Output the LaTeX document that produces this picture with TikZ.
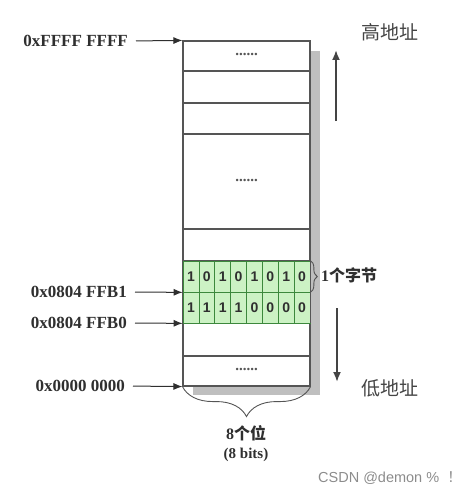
\documentclass[tikz,border=0pt]{standalone}
\usepackage{fontspec}
\setmainfont{Liberation Serif}
\newfontfamily\cjk{Noto Sans CJK SC}
\newfontfamily\wm{Liberation Sans}
\usetikzlibrary{arrows.meta,decorations.pathreplacing}
\definecolor{linec}{HTML}{555555}
\definecolor{shadowc}{HTML}{BFBFBF}
\definecolor{greenc}{HTML}{CCF2C4}
\definecolor{textc}{HTML}{2F2F2F}
\tikzset{
  memrow/.style={draw=linec,line width=1.1pt,fill=white,minimum width=127pt,inner sep=0pt,font=\fontsize{15}{15}\selectfont\bfseries,text=linec},
  bitcell/.style={draw=linec!70!green,line width=0.7pt,fill=greenc,minimum width=15.875pt,minimum height=31pt,inner sep=0pt,font=\wm\fontsize{14}{14}\selectfont\bfseries,text=textc},
  addr/.style={inner sep=0pt,anchor=east,font=\fontsize{17}{17}\selectfont\bfseries,text=textc},
  arr/.style={-{Latex[length=9pt,width=7pt]},line width=1pt,color=textc,shorten <=8pt},
  bigarr/.style={-{Latex[length=10pt,width=8pt]},line width=1.8pt,color=textc!90},
  cjklab/.style={inner sep=0pt,font=\cjk\fontsize{19}{19}\selectfont,text=textc!90},
  brc/.style={decorate,line width=0.9pt,color=linec}
}
\begin{document}
\begin{tikzpicture}[x=1pt,y=-1pt]
\useasboundingbox (0,0) rectangle (473,495);
% shadow
\fill[shadowc] (310,51) rectangle (320,395);
\fill[shadowc] (193,386) rectangle (320,395);
% memory rows
\node[memrow,minimum height=30pt] (r1) at (246.5,56) {\raisebox{3pt}{......}};
\node[memrow,minimum height=32pt] (r2) at (246.5,87) {};
\node[memrow,minimum height=31pt] (r3) at (246.5,118.5) {};
\node[memrow,minimum height=95pt] (r4) at (246.5,181.5) {\raisebox{3pt}{......}};
\node[memrow,minimum height=32pt] (r5) at (246.5,245) {};
\node[memrow,minimum height=33pt] (r6) at (246.5,339.5) {};
\node[memrow,minimum height=30pt] (r7) at (246.5,371) {\raisebox{3pt}{......}};
% bits
\foreach \b [count=\i] in {1,0,1,0,1,0,1,0}
  \node[bitcell] (a\i) at ({183+7.9375+(\i-1)*15.875},276.5) {\b};
\foreach \b [count=\i] in {1,1,1,1,0,0,0,0}
  \node[bitcell] (b\i) at ({183+7.9375+(\i-1)*15.875},307.5) {\b};
\draw[linec,line width=1.1pt] (a1.north west) -- (b1.south west);
\draw[linec,line width=1.1pt] (a8.north east) -- (b8.south east);
% address labels
\node[addr] (l1) at (128,41) {0xFFFF FFFF};
\node[addr] (l2) at (127,292) {0x0804 FFB1};
\node[addr] (l3) at (127,323) {0x0804 FFB0};
\node[addr] (l4) at (125,386) {0x0000 0000};
\draw[arr] (l1.east) -- (r1.north west);
\draw[arr] (l2.east) -- (a1.south west);
\draw[arr] (l3.east) -- (b1.south west);
\draw[arr] (l4.east) -- (r7.south west);
% direction arrows
\coordinate (u0) at (336,121);
\coordinate (u1) at (336,50);
\coordinate (d0) at (337,308);
\coordinate (d1) at (337,382);
\draw[bigarr] (u0) -- (u1);
\draw[bigarr] (d0) -- (d1);
\node[cjklab] (hi) at (390,32) {高地址};
\node[cjklab] (lo) at (390,388) {低地址};
% braces
\draw[brc,decoration={brace,amplitude=7pt}] (a8.north east) -- (a8.south east);
\node[inner sep=0pt,anchor=west,font=\fontsize{16}{16}\selectfont\bfseries,text=textc] (byte) at (321,275) {1{\cjk\fontsize{16}{16}\selectfont 个字节}};
\draw[brc,decoration={brace,amplitude=30pt,aspect=0.5}] (r7.south east) -- (r7.south west);
\node[inner sep=0pt,font=\fontsize{16}{16}\selectfont\bfseries,text=textc] (bits1) at (246,433) {8{\cjk\fontsize{16}{16}\selectfont 个位}};
\node[inner sep=0pt,font=\fontsize{15}{15}\selectfont\bfseries,text=textc] (bits2) at (246,455) {(8 bits)};
% watermark
\node[inner sep=0pt,anchor=east,font=\wm\fontsize{14.5}{14.5}\selectfont,text=black!45] (wm) at (462,478) {CSDN @demon \%\ \ {\cjk ！}};
\end{tikzpicture}
\end{document}
